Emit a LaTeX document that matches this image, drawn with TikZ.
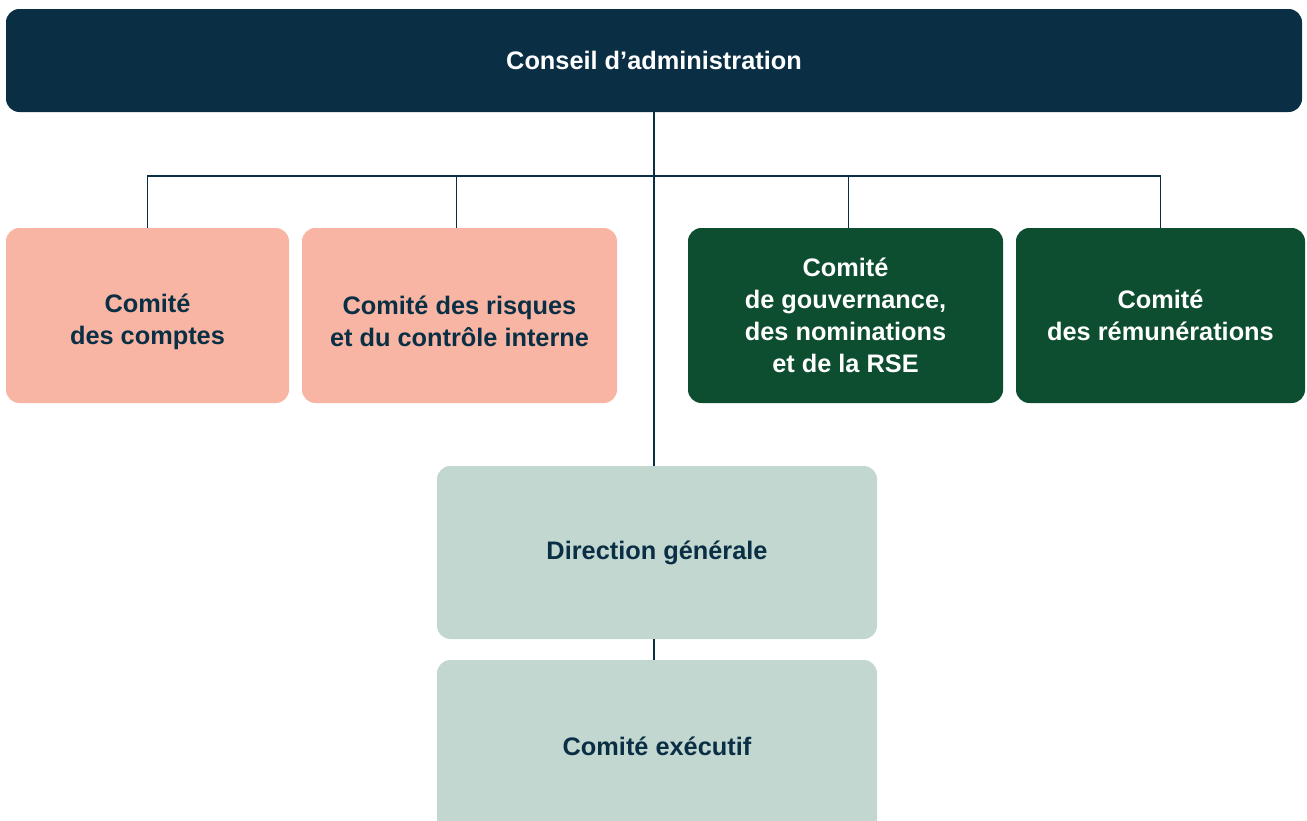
\documentclass[tikz,border=0pt]{standalone}
\usepackage{fontspec}
\setmainfont{Liberation Sans}
\usepackage{tikz}
\definecolor{navy}{HTML}{0A2F45}
\definecolor{saumon}{HTML}{F8B5A3}
\definecolor{sapin}{HTML}{0D4D30}
\definecolor{sauge}{HTML}{C1D7D0}
\tikzset{
    orgText/.style={align=center, inner sep=0pt, font=\fontsize{19}{24}\selectfont\bfseries},
    orgBox/.style={orgText, rounded corners=10pt, minimum height=131.25pt},
    boardBox/.style={orgBox, fill=navy, text=white, minimum width=972pt, minimum height=77.25pt},
    auditBox/.style={orgBox, fill=saumon},
    govBox/.style={orgBox, fill=sapin, text=white},
    mgmtBox/.style={orgBox, fill=sauge, text=navy, minimum width=330pt, minimum height=129.75pt},
    link/.style={navy, line width=0.8pt}
}
\begin{document}
\begin{tikzpicture}[x=0.75pt, y=-0.75pt]
		\clip (0,0) rectangle (1307,821);
		\node[boardBox] (conseil) at (654,60.5) {Conseil d’administration};
		% comites d'audit : texte un peu plus bas
		\node[auditBox, minimum width=212.25pt] (comptes) at (147.5,315.5) {};
		\node[orgText, text=navy] (comptesTxt) at ([yshift=-4.5pt]comptes.center) {Comité\\des comptes};
		\node[auditBox, minimum width=236.25pt] (risques) at (459.5,315.5) {};
		\node[orgText, text=navy] (risquesTxt) at ([yshift=-4.5pt]risques.center) {Comité des risques\\et du contrôle interne};
		\node[govBox, minimum width=236.25pt] (gouv) at (845.5,315.5) {Comité\\de gouvernance,\\des nominations\\et de la RSE};
		\node[govBox, minimum width=216.75pt] (remun) at (1160.5,315.5) {Comité\\des rémunérations};
		\node[mgmtBox] (direction) at (657,552.5) {Direction générale};
		\node[mgmtBox, minimum height=129pt] (comex) at (657,746) {Comité exécutif};
		% liaisons
		\coordinate (bus) at (654,176);
		\draw[link] (conseil.south -| bus) -- (direction.north -| bus);
		\draw[link] (comptes.north) |- (bus) -| (remun.north);
		\draw[link] ([xshift=-2.5pt]risques.north) -- ([xshift=-2.5pt]risques.north |- bus);
		\draw[link] ([xshift=2.5pt]gouv.north) -- ([xshift=2.5pt]gouv.north |- bus);
		\draw[link] (direction.south -| bus) -- (comex.north -| bus);
\end{tikzpicture}
\end{document}
